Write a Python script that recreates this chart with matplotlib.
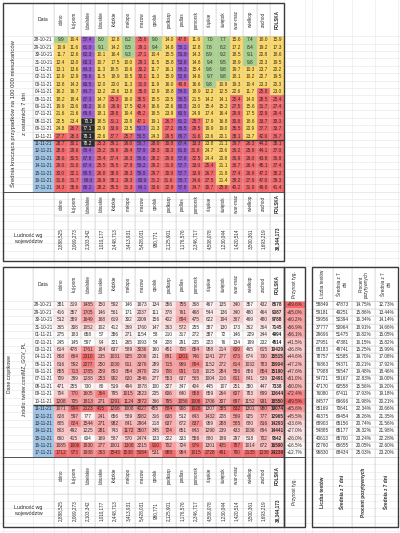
import numpy as np
import matplotlib
matplotlib.use("Agg")
import matplotlib.pyplot as plt
from matplotlib.colors import to_rgb

plt.rcParams['font.family'] = ['Liberation Sans', 'DejaVu Sans']

# ---------------- DATA ----------------
dates = ["28-10-21", "29-10-21", "30-10-21", "31-10-21", "01-11-21", "02-11-21", "03-11-21",
         "04-11-21", "05-11-21", "06-11-21", "07-11-21", "08-11-21", "09-11-21", "10-11-21",
         "11-11-21", "12-11-21", "13-11-21", "14-11-21", "15-11-21", "16-11-21", "17-11-21"]
regions = ["dolno", "kuj-pom", "lubelskie", "lubuskie", "łódzkie", "małopo", "mazow", "opolsk",
           "podkarp", "podlas", "pomorsk", "śląskie", "świętok", "war-maz", "wielkop", "zachod", "POLSKA"]
population = ["2,888,525", "2,069,273", "2,103,342", "1,010,177", "2,448,713", "3,413,931",
              "5,428,031", "980,771", "2,125,901", "1,176,576", "2,346,717", "4,508,078",
              "1,230,044", "1,420,514", "3,500,361", "1,693,219", "38,344,173"]

avg7_per100k = [
    [9.9, 10.4, 57.4, 8.0, 12.8, 8.2, 25.6, 9.0, 14.0, 47.8, 11.6, 7.0, 7.7, 15.6, 7.4, 18.0, 15.9],
    [10.9, 11.6, 61.0, 9.1, 14.2, 8.5, 29.1, 9.4, 14.8, 50.1, 12.8, 7.8, 8.2, 17.2, 8.4, 19.2, 17.3],
    [11.7, 12.6, 62.3, 10.1, 16.4, 9.3, 27.1, 10.4, 15.5, 51.9, 14.3, 8.9, 9.2, 18.5, 9.1, 20.8, 18.6],
    [12.4, 13.0, 63.3, 10.7, 17.5, 10.0, 29.1, 11.5, 15.8, 53.6, 14.8, 9.4, 9.5, 18.9, 9.8, 22.3, 19.5],
    [13.1, 13.6, 64.3, 11.3, 18.5, 10.6, 30.2, 11.7, 16.1, 54.3, 15.4, 9.8, 9.8, 19.7, 10.3, 23.7, 20.2],
    [12.9, 12.9, 59.6, 11.5, 18.9, 10.5, 30.1, 11.3, 15.9, 52.9, 14.6, 9.7, 9.8, 18.1, 10.2, 22.7, 19.5],
    [13.8, 14.3, 60.5, 12.0, 20.0, 11.3, 31.0, 11.9, 16.0, 49.8, 16.6, 9.8, 10.9, 19.3, 10.4, 23.3, 20.3],
    [16.2, 16.7, 64.7, 13.2, 22.6, 13.8, 35.0, 12.9, 18.8, 54.0, 18.9, 12.2, 12.5, 22.6, 11.7, 25.8, 23.0],
    [18.2, 18.4, 67.3, 14.7, 25.3, 16.0, 38.5, 15.5, 20.5, 56.5, 21.5, 14.2, 14.1, 25.4, 14.0, 28.5, 25.4],
    [19.9, 20.6, 68.2, 16.0, 26.9, 17.5, 42.4, 16.6, 22.6, 60.3, 23.0, 15.4, 15.2, 27.5, 15.6, 31.7, 27.4],
    [21.6, 21.6, 69.8, 18.1, 29.8, 19.4, 45.2, 18.5, 23.9, 60.5, 24.9, 17.4, 16.4, 29.9, 17.5, 32.9, 29.4],
    [22.5, 23.4, 70.3, 18.5, 31.1, 20.8, 47.1, 19.1, 26.7, 61.2, 25.7, 17.9, 16.8, 30.8, 18.6, 33.7, 30.3],
    [24.8, 26.7, 77.1, 20.9, 33.9, 23.5, 51.7, 21.3, 27.2, 65.5, 29.5, 19.9, 19.0, 35.5, 20.9, 37.7, 33.7],
    [27.7, 28.3, 78.1, 22.6, 37.7, 25.7, 56.5, 24.3, 29.5, 69.7, 31.6, 23.6, 20.1, 38.1, 23.7, 42.0, 36.7],
    [28.7, 30.1, 78.2, 25.3, 39.1, 26.0, 58.7, 28.0, 30.8, 67.4, 33.3, 23.8, 21.1, 39.7, 26.3, 44.2, 38.1],
    [28.8, 29.6, 69.4, 25.2, 36.9, 26.4, 57.9, 28.3, 30.3, 61.8, 31.8, 24.7, 20.6, 36.2, 25.9, 44.1, 37.0],
    [28.6, 30.5, 67.8, 25.4, 37.4, 26.3, 58.6, 28.2, 29.8, 57.9, 32.5, 24.4, 20.8, 36.9, 26.0, 43.8, 36.8],
    [29.0, 31.0, 67.4, 25.5, 36.5, 27.8, 58.2, 29.2, 31.0, 57.7, 33.0, 25.4, 21.1, 36.7, 26.4, 45.1, 37.4],
    [30.0, 32.1, 69.5, 26.8, 38.9, 28.3, 59.9, 29.7, 30.9, 57.7, 33.9, 26.7, 21.8, 37.4, 26.9, 47.2, 38.2],
    [31.8, 31.7, 69.0, 26.9, 38.1, 29.3, 60.9, 31.2, 31.6, 58.7, 34.6, 27.5, 21.4, 39.2, 27.9, 47.0, 39.3],
    [34.3, 35.6, 68.2, 28.2, 39.5, 31.3, 64.1, 33.6, 32.9, 57.8, 34.7, 30.7, 25.6, 40.2, 31.9, 49.8, 41.4],
]

daily_cases = [
    [381, 319, 1485, 150, 592, 146, 1673, 134, 356, 755, 368, 467, 135, 340, 357, 432, 8678],
    [416, 357, 1705, 146, 561, 171, 2037, 111, 378, 761, 468, 544, 136, 340, 480, 464, 9387],
    [512, 389, 1649, 168, 619, 302, 2009, 156, 402, 894, 475, 622, 194, 367, 469, 480, 9788],
    [365, 308, 1052, 102, 412, 369, 1760, 147, 363, 572, 255, 387, 130, 173, 362, 364, 7145],
    [275, 183, 658, 57, 386, 271, 1154, 58, 210, 317, 272, 387, 72, 146, 229, 344, 4994],
    [245, 145, 597, 94, 321, 265, 1093, 54, 228, 291, 235, 223, 76, 134, 199, 232, 4514],
    [614, 478, 1761, 184, 637, 589, 3036, 160, 451, 708, 654, 958, 214, 639, 465, 615, 10429],
    [868, 664, 2310, 235, 1031, 925, 3206, 201, 691, 1301, 746, 1241, 277, 673, 674, 730, 15515],
    [816, 592, 2077, 250, 1030, 911, 3376, 289, 715, 969, 894, 1152, 272, 614, 1032, 783, 15904],
    [855, 713, 1785, 259, 893, 854, 3470, 229, 708, 991, 718, 1025, 284, 556, 856, 854, 15190],
    [709, 399, 1288, 253, 902, 820, 2846, 277, 553, 637, 565, 1004, 216, 611, 841, 539, 12491],
    [471, 255, 730, 80, 519, 494, 1878, 100, 327, 347, 404, 445, 107, 251, 380, 447, 7338],
    [704, 770, 1605, 364, 795, 1015, 2823, 205, 606, 640, 858, 859, 264, 607, 783, 699, 13644],
    [1208, 705, 1813, 271, 1291, 1124, 3872, 366, 795, 1056, 1006, 1706, 307, 697, 1152, 931, 18550],
    [1071, 994, 2123, 415, 1266, 1008, 4027, 455, 884, 908, 1026, 1307, 385, 832, 1301, 980, 19074],
    [828, 597, 777, 241, 656, 589, 3082, 316, 638, 512, 643, 1432, 228, 569, 925, 777, 12965],
    [805, 824, 1544, 271, 982, 841, 2964, 218, 637, 672, 837, 959, 288, 585, 880, 816, 14293],
    [803, 492, 1225, 281, 743, 1172, 3507, 345, 724, 651, 643, 1290, 239, 433, 1036, 694, 14441],
    [660, 415, 604, 169, 587, 570, 2474, 133, 322, 333, 556, 880, 189, 297, 518, 702, 9542],
    [1085, 1006, 1830, 277, 1001, 1308, 3215, 910, 702, 724, 979, 1301, 405, 787, 1014, 672, 16590],
    [1712, 973, 1938, 363, 1543, 1538, 5084, 531, 988, 984, 1015, 2728, 491, 790, 2135, 1238, 24239],
]

weekly_growth = [89.6, 65.0, 60.2, 56.9, 56.1, 41.5, 36.8, 44.6, 47.2, 47.6, 51.0, 50.0, 72.4, 89.5,
                 65.6, 45.5, 33.6, 27.0, 26.0, 16.5, 12.7]

tests = [58849, 59181, 59956, 37777, 29696, 27951, 68183, 78757, 76863, 77988, 54721, 47170, 76080,
         84577, 85169, 49375, 68903, 54885, 40613, 82760, 96830]
tests_avg7 = [47873, 49251, 50394, 50964, 51475, 47381, 48741, 51585, 54371, 56547, 59167, 60558,
              67411, 69696, 70641, 69454, 65156, 65177, 65700, 66655, 68434]
positive_pct = [14.75, 15.86, 16.34, 18.91, 16.82, 16.15, 15.25, 19.70, 20.21, 19.48, 22.83, 15.56,
                17.93, 21.98, 22.34, 26.26, 20.74, 26.32, 23.24, 20.05, 25.03]
positive_pct_avg7 = [12.73, 13.44, 14.14, 14.66, 15.05, 15.82, 15.99, 17.08, 17.92, 18.46, 19.00,
                     19.20, 19.18, 20.21, 20.66, 21.35, 21.56, 21.98, 22.28, 22.60, 23.20]

right_headers = ["Liczba testów", "Średnia z 7\ndni", "Procent\npozytywnych", "Średnia z 7\ndni"]
right_footers = ["Liczba testów", "Średnia z 7 dni", "Procent pozytywnych", "Średnia z 7 dni"]

# ---------------- LAYOUT / STYLE ----------------
W, H = 400, 533
X_L, X_T, X_D, X_E, X_P = 3, 33, 54, 284, 305
NC = len(regions)
CW = (X_E - X_D) / NC
RH = 7.4
NR = len(dates)
HL_FROM = 14  # highlighted (current week) rows start
TXT = "#2b2b2b"
BORDER = "#3a3a3a"
GRID = "#c9c9c9"
BG_GRID = "#e6e6e6"
GREEN, YELLOW, RED, PURPLE, BLACK = "#a9d18e", "#ffd966", "#f4676b", "#9a5cd0", "#2a2a2a"
BLUE = "#9dc3e6"
SCALE_RED = np.array(to_rgb("#f8696b"))

# top table y
T_TOP, T_HEAD = 3, 36.2
T_DEND = T_HEAD + NR * RH
T_NAMES, T_BOT = 216, 261
# bottom table y
B_TOP, B_HEAD = 267, 301.3
B_DEND = B_HEAD + NR * RH
B_NAMES, B_BOT = 494, 527
# right table x
R_X = np.array([312, 333, 352, 375, 398])

fig = plt.figure(figsize=(4.0, 5.33), dpi=100)
ax = fig.add_axes([0, 0, 1, 1])
ax.set_xlim(0, W)
ax.set_ylim(H, 0)
ax.axis("off")

col_edges = X_D + CW * np.arange(NC + 1)
col_cent = X_D + CW * (np.arange(NC) + 0.5)

# spreadsheet background grid
ax.vlines(np.concatenate([[X_L, X_T], col_edges, [X_P], R_X]), 0, H, color=BG_GRID, lw=0.4, zorder=0)
ax.hlines(np.concatenate([T_HEAD + RH * np.arange(NR + 1), B_HEAD + RH * np.arange(NR + 1),
                          np.arange(T_DEND, 268, RH), np.arange(B_DEND, H, RH)]),
          0, W, color=BG_GRID, lw=0.4, zorder=0)


def cat_color(v):
    if v < 10:
        return GREEN
    if v < 25:
        return YELLOW
    if v < 50:
        return RED
    if v < 70:
        return PURPLE
    return BLACK


def draw_dates(y_head):
    for i, d in enumerate(dates):
        yc = y_head + RH * (i + 0.5)
        if i >= HL_FROM:
            ax.add_patch(plt.Rectangle((X_T, y_head + RH * i), X_D - X_T, RH, fc=BLUE, ec="none", zorder=1))
        ax.text((X_T + X_D) / 2, yc, d, fontsize=3.3, ha="center", va="center", color=TXT, zorder=4)


def draw_frame(y_top, y_head, y_dend, y_names, y_bot):
    # inner thin lines
    ax.vlines(col_edges[1:-1], y_top, y_bot, color=GRID, lw=0.35, zorder=2)
    ax.vlines([X_T], y_top, y_dend, color=GRID, lw=0.35, zorder=2)
    ax.vlines([X_D], y_top, y_bot, color=GRID, lw=0.35, zorder=2)
    ax.hlines(y_head + RH * np.arange(1, NR), X_T, X_E, color=GRID, lw=0.3, zorder=2)
    ax.hlines([y_head], X_T, X_E, color=GRID, lw=0.5, zorder=2)
    ax.hlines([y_dend], X_L, X_E, color=BORDER, lw=0.6, zorder=3)
    ax.hlines([y_names], X_D, X_E, color=GRID, lw=0.35, zorder=2)
    # week separator
    ax.hlines([y_head + RH * HL_FROM], X_T, X_E, color=BORDER, lw=1.0, zorder=3)
    # outer
    ax.add_patch(plt.Rectangle((X_L, y_top), X_E - X_L, y_bot - y_top, fc="none", ec=BORDER, lw=1.0, zorder=5))
    # header names
    for j, r in enumerate(regions):
        bold = r == "POLSKA"
        ax.text(col_cent[j], (y_top + y_head) / 2, r, rotation=90, fontsize=3.3, ha="center", va="center",
                color=TXT, fontweight="bold" if bold else "normal", zorder=4)
        ax.text(col_cent[j], (y_dend + y_names) / 2, r, rotation=90, fontsize=3.3, ha="center", va="center",
                color=TXT, fontweight="bold" if bold else "normal", zorder=4)
        ax.text(col_cent[j], (y_names + y_bot) / 2, population[j], rotation=90, fontsize=3.3, ha="center",
                va="center", color=TXT, fontweight="bold" if bold else "normal", zorder=4)
    ax.text((X_T + X_D) / 2, (y_top + y_head) / 2, "Data", fontsize=3.6, ha="center", va="center", color=TXT)
    ax.text((X_L + X_D) / 2, (y_names + y_bot) / 2, "Ludność wg\nwojewództw", fontsize=3.8, ha="center",
            va="center", color=TXT, linespacing=1.5)


# ---------------- TOP TABLE ----------------
top_arr = np.array(avg7_per100k)
top_rgb = np.array([[to_rgb(cat_color(v)) for v in row] for row in top_arr])
ax.imshow(top_rgb, extent=(X_D, X_E, T_DEND, T_HEAD), aspect="auto", interpolation="nearest", zorder=1)
for i in range(NR):
    for j in range(NC):
        v = top_arr[i, j]
        ax.text(col_cent[j], T_HEAD + RH * (i + 0.5), f"{v:.1f}", fontsize=3.4, ha="center", va="center",
                color="white" if v >= 70 else TXT, zorder=4)
draw_dates(T_HEAD)
draw_frame(T_TOP, T_HEAD, T_DEND, T_NAMES, T_BOT)
ycen_t = (T_HEAD + T_DEND) / 2
ax.text(13, ycen_t, "Średnia krocząca przypadków na 100 000 mieszkańców", rotation=90, fontsize=4.2,
        ha="center", va="center", color=TXT)
ax.text(24.5, ycen_t, "z ostatnich 7 dni", rotation=90, fontsize=4.2, ha="center", va="center", color=TXT)

# ---------------- BOTTOM TABLE ----------------
bot_arr = np.array(daily_cases, dtype=float)
mn, mx = bot_arr.min(axis=0), bot_arr.max(axis=0)
frac = (bot_arr - mn) / (mx - mn)
bot_rgb = (1 - frac[..., None]) * np.ones(3) + frac[..., None] * SCALE_RED
ax.imshow(bot_rgb, extent=(X_D, X_E, B_DEND, B_HEAD), aspect="auto", interpolation="nearest", zorder=1)
for i in range(NR):
    for j in range(NC):
        bold = regions[j] == "POLSKA"
        ax.text(col_cent[j], B_HEAD + RH * (i + 0.5), f"{int(bot_arr[i, j])}", fontsize=3.4 if not bold else 3.3,
                ha="center", va="center", color=TXT, fontweight="bold" if bold else "normal", zorder=4)
draw_dates(B_HEAD)
draw_frame(B_TOP, B_HEAD, B_DEND, B_NAMES, B_BOT)
ycen_b = (B_HEAD + B_DEND) / 2
ax.text(10, ycen_b - 5, "Dane cząstkowe", rotation=90, fontsize=3.7, ha="center", va="center", color=TXT)
ax.text(24, ycen_b, "źródło: twitter.com/MZ_GOV_PL", rotation=90, fontsize=3.7, ha="center", va="center",
        color=TXT)

# weekly growth column
g = np.array(weekly_growth)
gf = (g - g.min()) / (g.max() - g.min())
g_rgb = (1 - gf[:, None]) * np.ones(3) + gf[:, None] * SCALE_RED
ax.imshow(g_rgb[:, None, :], extent=(X_E, X_P, B_DEND, B_HEAD), aspect="auto", interpolation="nearest", zorder=1)
for i, v in enumerate(g):
    ax.text((X_E + X_P) / 2, B_HEAD + RH * (i + 0.5), f"+{v:.1f}%", fontsize=3.3, ha="center", va="center",
            color=TXT, zorder=4)
ax.hlines(B_HEAD + RH * np.arange(1, NR), X_E, X_P, color=GRID, lw=0.3, zorder=2)
ax.hlines([B_HEAD], X_E, X_P, color=GRID, lw=0.5, zorder=2)
ax.hlines([B_DEND], X_E, X_P, color=BORDER, lw=0.6, zorder=3)
ax.add_patch(plt.Rectangle((X_E, B_TOP), X_P - X_E, B_BOT - B_TOP, fc="none", ec=BORDER, lw=1.0, zorder=5))
ax.text((X_E + X_P) / 2, (B_TOP + B_HEAD) / 2, "Przyrost tyg.", rotation=90, fontsize=3.4, ha="center",
        va="center", color=TXT)
ax.text((X_E + X_P) / 2, (B_DEND + B_BOT) / 2, "Przyrost tyg.", rotation=90, fontsize=3.4, ha="center",
        va="center", color=TXT)

# ---------------- RIGHT TABLE ----------------
r_cent = (R_X[:-1] + R_X[1:]) / 2
right_cols = [[f"{v}" for v in tests], [f"{v}" for v in tests_avg7],
              [f"{v:.2f}%" for v in positive_pct], [f"{v:.2f}%" for v in positive_pct_avg7]]
for k, col in enumerate(right_cols):
    for i, s in enumerate(col):
        ax.text(r_cent[k], B_HEAD + RH * (i + 0.5), s, fontsize=3.3, ha="center", va="center", color=TXT, zorder=4)
    ax.text(r_cent[k], (B_TOP + B_HEAD) / 2, right_headers[k], rotation=90, fontsize=3.3, ha="center",
            va="center", color=TXT, multialignment="center", linespacing=1.1)
    ax.text(r_cent[k], (B_DEND + B_BOT) / 2, right_footers[k], rotation=90, fontsize=3.4, ha="center",
            va="center", color=TXT, fontweight="bold")
ax.vlines(R_X[1:-1], B_TOP, B_BOT, color=GRID, lw=0.35, zorder=2)
ax.hlines(B_HEAD + RH * np.arange(1, NR), R_X[0], R_X[-1], color=GRID, lw=0.3, zorder=2)
ax.hlines([B_HEAD, B_DEND], R_X[0], R_X[-1], color=GRID, lw=0.5, zorder=2)
ax.add_patch(plt.Rectangle((R_X[0], B_TOP), R_X[-1] - R_X[0], B_BOT - B_TOP, fc="none", ec=BORDER, lw=1.0,
                           zorder=5))

fig.savefig("out.png", dpi=100, facecolor="white")
